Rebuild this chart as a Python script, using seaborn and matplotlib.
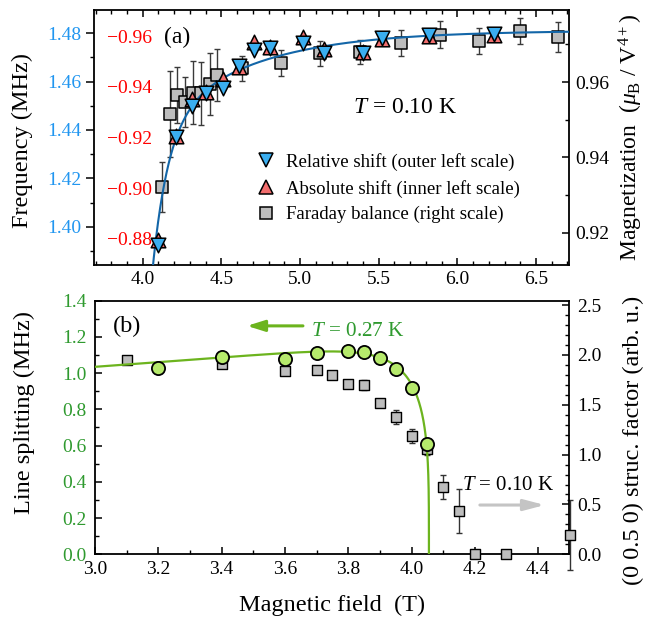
import numpy as np
import matplotlib
matplotlib.use("Agg")
import matplotlib.pyplot as plt
from matplotlib.lines import Line2D
from matplotlib.ticker import MultipleLocator, FuncFormatter
import seaborn as sns

sns.set_theme(style="ticks")
plt.rcParams.update({
    "font.family": ["Liberation Serif", "DejaVu Serif"],
    "mathtext.fontset": "custom",
    "mathtext.rm": "Liberation Serif",
    "mathtext.it": "Liberation Serif:italic",
    "mathtext.bf": "Liberation Serif:bold",
    "axes.edgecolor": "black",
    "axes.linewidth": 1.3,
    "text.color": "black",
    "axes.labelcolor": "black",
    "xtick.color": "black",
    "ytick.color": "black",
    "xtick.major.width": 1.1,
    "ytick.major.width": 1.1,
    "xtick.minor.width": 1.0,
    "ytick.minor.width": 1.0,
    "axes.unicode_minus": True,
})

# ---- panel (a): NMR line position and magnetization at T = 0.10 K ----
field_nmr = [4.10, 4.21, 4.31, 4.40, 4.51, 4.61, 4.71, 4.81, 5.02, 5.15, 5.40, 5.52, 5.82, 6.23]
freq_rel = [1.3926, 1.4372, 1.4499, 1.4554, 1.4572, 1.4664, 1.4730, 1.4740,
            1.4760, 1.4719, 1.4716, 1.4778, 1.4792, 1.4796]
shift_abs = [-0.8796, -0.9206, -0.9350, -0.9380, -0.9430, -0.9480, -0.9578, -0.9558,
             -0.9595, -0.9550, -0.9536, -0.9587, -0.9600, -0.9604]
field_mag = [4.125, 4.174, 4.22, 4.27, 4.32, 4.37, 4.43, 4.47, 4.63, 4.88,
             5.13, 5.38, 5.64, 5.89, 6.14, 6.40, 6.64]
mag = [0.9321, 0.9514, 0.9566, 0.9548, 0.9572, 0.9570, 0.9595, 0.9619, 0.9636, 0.9651,
       0.9676, 0.9680, 0.9703, 0.9725, 0.9709, 0.9736, 0.9720]
mag_err = [0.0066, 0.0114, 0.0075, 0.0066, 0.0084, 0.0084, 0.0083, 0.0069, 0.0034, 0.0034,
           0.0033, 0.0032, 0.0035, 0.0036, 0.0034, 0.0035, 0.0040]

# ---- panel (b): line splitting (0.27 K) and (0 0.5 0) structure factor (0.10 K) ----
field_split = [3.2, 3.4, 3.6, 3.7, 3.8, 3.85, 3.9, 3.95, 4.0, 4.05]
splitting = [1.027, 1.091, 1.077, 1.113, 1.124, 1.115, 1.084, 1.023, 0.917, 0.611]
field_sf = [3.1, 3.4, 3.6, 3.7, 3.75, 3.8, 3.85, 3.9, 3.95, 4.0, 4.05, 4.1, 4.15, 4.2, 4.3, 4.5]
struc = [1.949, 1.909, 1.842, 1.849, 1.800, 1.708, 1.698, 1.521, 1.380, 1.190,
         1.053, 0.678, 0.434, 0.0, 0.0, 0.19]
struc_err = [0.04, 0.04, 0.03, 0.03, 0.04, 0.03, 0.05, 0.04, 0.07, 0.07,
             0.06, 0.12, 0.22, 0.02, 0.0, 0.35]


def saturation_fit(b, f_sat=1.481, b0=4.064, a1=0.0574, w1=0.10, a2=0.0401, w2=0.596):
    """Empirical approach to saturation of the NMR line position."""
    return f_sat - a1 * np.exp(-(b - b0) / w1) - a2 * np.exp(-(b - b0) / w2)


def splitting_fit(b, c0=1.035, c1=0.13, bc=4.055, n=40, beta=0.25):
    """Order-parameter-like vanishing of the line splitting at bc."""
    return (c0 + c1 * (b - 3.0)) * np.clip(1 - (b / bc) ** n, 0, None) ** beta


BLUE = "#3aaef0"
RED = "#f26d6d"
GREY = "#bdbdbd"
FIT_BLUE = "#1366a8"
FREQ_TXT = "#2196f0"
GREEN_FILL = "#b6ea6c"
GREEN_LINE = "#6cb41e"
GREEN_TXT = "#2f9a2f"
TICK_FS = 14
LABEL_FS = 17.5


def minus_fmt(fmt):
    return FuncFormatter(lambda v, p: format(v, fmt).replace("-", "\u2212"))


W, H = 646, 620


def rect(l, t, r, b):
    return [l / W, 1 - b / H, (r - l) / W, (b - t) / H]


fig = plt.figure(figsize=(W / 100, H / 100), dpi=100)

# ================= panel (a) =================
ra = rect(94, 10, 569, 265)
ax_mag = fig.add_axes(ra)
ax_freq = fig.add_axes(ra, sharex=ax_mag)
ax_red = fig.add_axes(ra, sharex=ax_mag)
ax_rel = fig.add_axes(ra, sharex=ax_mag, sharey=ax_freq)
for a in (ax_freq, ax_red, ax_rel):
    a.patch.set_visible(False)
    for s in a.spines.values():
        s.set_visible(False)
    a.xaxis.set_visible(False)
ax_rel.yaxis.set_visible(False)

# magnetization (right scale)
ax_mag.errorbar(field_mag, mag, yerr=mag_err, fmt="none", ecolor="#3a3a3a",
                elinewidth=1.0, capsize=2.5, capthick=1.0, zorder=2)
sns.scatterplot(x=field_mag, y=mag, ax=ax_mag, marker="s", s=66, color=GREY,
                edgecolor="black", linewidth=1.1, zorder=3)

# fit curve on the frequency scale
b_fit = np.linspace(4.03, 6.71, 600)
sns.lineplot(x=b_fit, y=saturation_fit(b_fit), ax=ax_freq, color=FIT_BLUE,
             linewidth=1.5, estimator=None, sort=False)

# absolute shift (inner left scale)
sns.scatterplot(x=field_nmr, y=shift_abs, ax=ax_red, marker="^", s=110, color=RED,
                edgecolor="black", linewidth=1.1)
# relative shift (outer left scale)
sns.scatterplot(x=field_nmr, y=freq_rel, ax=ax_rel, marker="v", s=110, color=BLUE,
                edgecolor="black", linewidth=1.1)

ax_mag.set_xlim(3.69, 6.71)
ax_mag.xaxis.set_major_locator(MultipleLocator(0.5))
ax_mag.xaxis.set_minor_locator(MultipleLocator(0.1))
ax_mag.xaxis.set_major_formatter(minus_fmt(".1f"))
ax_mag.tick_params(axis="x", which="both", direction="in", top=True, bottom=True,
                   labelsize=TICK_FS, pad=4)
ax_mag.tick_params(axis="x", which="major", length=5)
ax_mag.tick_params(axis="x", which="minor", length=3)

ax_mag.set_ylim(0.9115, 0.9791)
ax_mag.yaxis.set_major_locator(MultipleLocator(0.02))
ax_mag.yaxis.set_minor_locator(MultipleLocator(0.01))
ax_mag.yaxis.set_major_formatter(minus_fmt(".2f"))
ax_mag.tick_params(axis="y", which="both", direction="in", left=False, right=True,
                   labelleft=False, labelright=True, labelsize=TICK_FS, pad=4.3)
ax_mag.tick_params(axis="y", which="major", length=5)
ax_mag.tick_params(axis="y", which="minor", length=3)

ax_freq.set_ylim(1.3843, 1.4895)
ax_freq.yaxis.set_major_locator(MultipleLocator(0.02))
ax_freq.yaxis.set_minor_locator(MultipleLocator(0.01))
ax_freq.yaxis.set_major_formatter(minus_fmt(".2f"))
ax_freq.tick_params(axis="y", which="both", direction="out", left=True, right=False,
                    labelleft=True, labelright=False, labelcolor=FREQ_TXT,
                    labelsize=TICK_FS, pad=3.5)
ax_freq.tick_params(axis="y", which="major", length=5.5)
ax_freq.tick_params(axis="y", which="minor", length=3)

ax_red.set_ylim(-0.8697, -0.9703)
ax_red.yaxis.set_major_locator(MultipleLocator(0.02))
ax_red.yaxis.set_major_formatter(minus_fmt(".2f"))
ax_red.tick_params(axis="y", which="both", length=0, left=True, right=False,
                   labelleft=True, labelright=False, labelcolor="red",
                   labelsize=TICK_FS, pad=-41.5)
ax_red.yaxis.set_minor_locator(plt.NullLocator())

for a in (ax_mag, ax_freq, ax_red, ax_rel):
    a.set_xlabel("")
    a.set_ylabel("")

handles = [
    Line2D([], [], marker="v", ls="none", markersize=10.5, markerfacecolor=BLUE,
           markeredgecolor="black", markeredgewidth=1.1),
    Line2D([], [], marker="^", ls="none", markersize=10.5, markerfacecolor=RED,
           markeredgecolor="black", markeredgewidth=1.1),
    Line2D([], [], marker="s", ls="none", markersize=8, markerfacecolor=GREY,
           markeredgecolor="black", markeredgewidth=1.1),
]
labels = ["Relative shift (outer left scale)",
          "Absolute shift (inner left scale)",
          "Faraday balance (right scale)"]
ax_rel.legend(handles, labels, loc="upper left", bbox_to_anchor=(0.342, 0.439),
              frameon=False, fontsize=13.5, handlelength=1.0, handletextpad=0.57,
              labelspacing=0.46, borderpad=0, borderaxespad=0)

ax_rel.text(0.175, 0.894, "(a)", transform=ax_rel.transAxes, fontsize=17,
            ha="center", va="center")
ax_rel.text(0.545, 0.596, r"$T$ = 0.10 K", transform=ax_rel.transAxes, fontsize=17,
            ha="left", va="baseline")

fig.text(22 / W, 1 - 141 / H, "Frequency (MHz)", rotation=90, ha="center",
         va="center", fontsize=LABEL_FS)
fig.text(631 / W, 1 - 137 / H, r"Magnetization  ($\mu_{\rm B}$ / V$^{4+}$)",
         rotation=90, ha="center", va="center", fontsize=17)

# ================= panel (b) =================
rb = rect(95, 300.7, 569.3, 554.3)
ax_sf = fig.add_axes(rb)
ax_sp = fig.add_axes(rb, sharex=ax_sf)
ax_sp.patch.set_visible(False)
for s in ax_sp.spines.values():
    s.set_visible(False)
ax_sp.xaxis.set_visible(False)

eb = ax_sf.errorbar(field_sf, struc, yerr=struc_err, fmt="none", ecolor="#333333",
                    elinewidth=1.0, capsize=2.5, capthick=1.0, zorder=2)
for child in eb.get_children():
    child.set_clip_on(False)
sns.scatterplot(x=field_sf, y=struc, ax=ax_sf, marker="s", s=49, color=GREY,
                edgecolor="black", linewidth=1.0, clip_on=False, zorder=3)

bc = 4.055
b_split = np.concatenate([np.linspace(3.0, 4.0, 200),
                          bc - np.geomspace(0.055, 1e-7, 300)[1:], [bc]])
sns.lineplot(x=b_split, y=splitting_fit(b_split, bc=bc), ax=ax_sp, color=GREEN_LINE,
             linewidth=1.6, estimator=None, sort=False)
sns.scatterplot(x=field_split, y=splitting, ax=ax_sp, marker="o", s=90,
                color=GREEN_FILL, edgecolor="black", linewidth=1.3, zorder=3)

ax_sf.set_xlim(3.0, 4.4985)
ax_sf.xaxis.set_major_locator(MultipleLocator(0.2))
ax_sf.xaxis.set_minor_locator(MultipleLocator(0.1))
ax_sf.xaxis.set_major_formatter(minus_fmt(".1f"))
ax_sf.tick_params(axis="x", which="both", direction="in", top=False, bottom=True,
                  labelsize=TICK_FS, pad=5)
ax_sf.tick_params(axis="x", which="major", length=5)
ax_sf.tick_params(axis="x", which="minor", length=3)

ax_sf.set_ylim(0, 2.544)
ax_sf.yaxis.set_major_locator(MultipleLocator(0.5))
ax_sf.yaxis.set_minor_locator(MultipleLocator(0.1))
ax_sf.yaxis.set_major_formatter(minus_fmt(".1f"))
ax_sf.tick_params(axis="y", which="both", direction="in", left=False, right=True,
                  labelleft=False, labelright=True, labelsize=TICK_FS, pad=5.8)
ax_sf.tick_params(axis="y", which="major", length=5)
ax_sf.tick_params(axis="y", which="minor", length=3)

ax_sp.set_ylim(0, 1.4)
ax_sp.yaxis.set_major_locator(MultipleLocator(0.2))
ax_sp.yaxis.set_minor_locator(MultipleLocator(0.1))
ax_sp.yaxis.set_major_formatter(minus_fmt(".1f"))
ax_sp.tick_params(axis="y", which="both", direction="in", left=True, right=False,
                  labelleft=True, labelright=False, labelcolor=GREEN_TXT,
                  labelsize=TICK_FS, pad=6)
ax_sp.tick_params(axis="y", which="major", length=5)
ax_sp.tick_params(axis="y", which="minor", length=3)

for a in (ax_sf, ax_sp):
    a.set_xlabel("")
    a.set_ylabel("")

ax_sp.annotate("", xy=(3.48, 1.261), xytext=(3.657, 1.261),
               arrowprops=dict(arrowstyle="-|>,head_length=1.05,head_width=0.33",
                               color=GREEN_LINE, lw=2.2, shrinkA=0, shrinkB=0,
                               mutation_scale=10))
ax_sp.text(3.684, 1.207, r"$T$ = 0.27 K", color=GREEN_TXT, fontsize=15.3,
           ha="left", va="baseline")
ax_sp.text(4.158, 0.355, r"$T$ = 0.10 K", fontsize=15, ha="left", va="baseline")
ax_sp.annotate("", xy=(4.421, 0.272), xytext=(4.216, 0.272),
               arrowprops=dict(arrowstyle="-|>,head_length=1.25,head_width=0.33",
                               color="#c4c4c4", lw=2.2, shrinkA=0, shrinkB=0,
                               mutation_scale=10))
ax_sp.text(0.0685, 0.900, "(b)", transform=ax_sp.transAxes, fontsize=17.5,
           ha="center", va="center")

fig.text(24 / W, 1 - 412 / H, "Line splitting (MHz)", rotation=90, ha="center",
         va="center", fontsize=LABEL_FS)
fig.text(633 / W, 1 - 440 / H, "(0 0.5 0) struc. factor (arb. u.)", rotation=90,
         ha="center", va="center", fontsize=LABEL_FS)
fig.text(332 / W, 1 - 605 / H, "Magnetic field  (T)", ha="center", va="center",
         fontsize=LABEL_FS)

fig.savefig("out.png", dpi=100)
